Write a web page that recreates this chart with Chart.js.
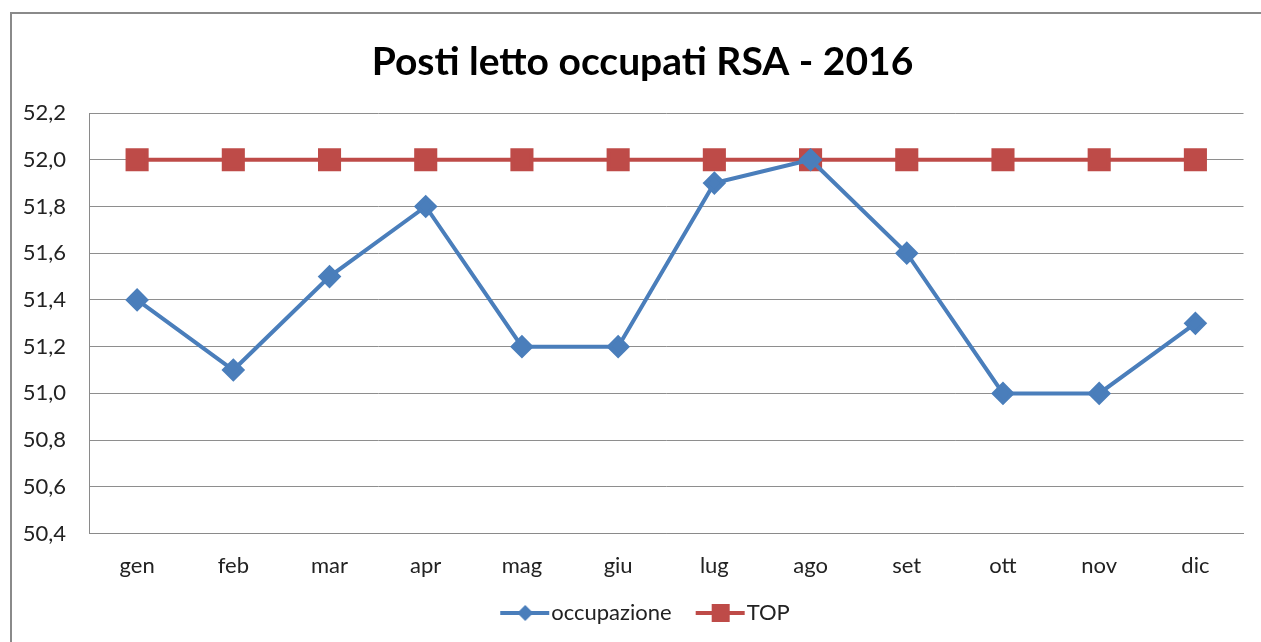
<!DOCTYPE html>
<html lang="it">
<head>
    <meta charset="UTF-8">
    <title>Posti letto occupati RSA - 2016</title>
    <style>
        html, body {
            margin: 0;
            padding: 0;
            background: #ffffff;
            overflow: hidden;
        }
        .frame {
            position: absolute;
            left: 10px;
            top: 12px;
            width: 1400px;
            height: 800px;
            border-left: 2px solid #8a8a8a;
            border-top: 2px solid #8a8a8a;
        }
        .wrap {
            position: absolute;
            left: 0;
            top: 0;
            width: 1261px;
            height: 634px;
        }
    </style>
</head>
<body>
    <div class="frame"></div>
    <div class="wrap"><canvas id="rsaChart"></canvas></div>

    <script src="https://cdn.jsdelivr.net/npm/chart.js"></script>
    <script>
        const mesi = ['gen', 'feb', 'mar', 'apr', 'mag', 'giu', 'lug', 'ago', 'set', 'ott', 'nov', 'dic'];
        const occupazione = [51.4, 51.1, 51.5, 51.8, 51.2, 51.2, 51.9, 52.0, 51.6, 51.0, 51.0, 51.3];
        const top_ = [52, 52, 52, 52, 52, 52, 52, 52, 52, 52, 52, 52];
        const yMin = 50.4, yMax = 52.2, yStep = 0.2;

        const BLUE = '#4a7ebb';
        const RED = '#be4b48';
        const FONT = 'Lato, "Open Sans", sans-serif';

        // legend symbol: short line with the marker in the middle
        // (image is wider than the legend box so the line sits right next to the text)
        function legendIcon(color, style) {
            const c = document.createElement('canvas');
            c.width = 80;
            c.height = 22;
            const g = c.getContext('2d');
            g.strokeStyle = color;
            g.fillStyle = color;
            g.lineWidth = 4;
            g.beginPath();
            g.moveTo(30, 11);
            g.lineTo(79, 11);
            g.stroke();
            g.beginPath();
            if (style === 'diamond') {
                g.moveTo(55, 3);
                g.lineTo(63, 11);
                g.lineTo(55, 19);
                g.lineTo(47, 11);
            } else {
                g.rect(46, 2, 18, 18);
            }
            g.closePath();
            g.fill();
            return c;
        }
        const icons = [legendIcon(BLUE, 'diamond'), legendIcon(RED, 'square')];

        // nudge legend and title a little to the right, as in the original
        const boxNudge = {
            id: 'boxNudge',
            afterLayout: function (chart) {
                if (chart.legend) chart.legend.left += 22;
                if (chart.titleBlock) chart.titleBlock.left += 37;
            }
        };

        new Chart(document.getElementById('rsaChart'), {
            type: 'line',
            data: {
                labels: mesi,
                datasets: [{
                    label: 'occupazione',
                    data: occupazione,
                    borderColor: BLUE,
                    backgroundColor: BLUE,
                    borderWidth: 4,
                    pointStyle: 'rectRot',
                    pointRadius: 9,
                    pointHoverRadius: 9,
                    tension: 0
                }, {
                    label: 'TOP',
                    data: top_,
                    borderColor: RED,
                    backgroundColor: RED,
                    borderWidth: 4,
                    pointStyle: 'rect',
                    pointRadius: 13.5,
                    pointHoverRadius: 13.5,
                    tension: 0
                }]
            },
            options: {
                responsive: true,
                maintainAspectRatio: false,
                animation: false,
                layout: {
                    padding: { left: 0, right: 13, top: 38.6, bottom: 0 }
                },
                scales: {
                    x: {
                        offset: true,
                        grid: { display: false, drawTicks: false },
                        border: { color: '#8a8a8a', width: 1 },
                        ticks: {
                            color: '#222222',
                            font: { family: FONT, size: 22 },
                            padding: 19
                        }
                    },
                    y: {
                        min: yMin,
                        max: yMax,
                        afterFit: function (scale) { scale.width = 89; },
                        afterBuildTicks: function (scale) {
                            const t = [];
                            for (let i = 0; i <= Math.round((yMax - yMin) / yStep); i++) {
                                t.push({ value: +(yMin + i * yStep).toFixed(1) });
                            }
                            scale.ticks = t;
                        },
                        grid: { color: '#8e8e8e', lineWidth: 1, drawTicks: false },
                        border: { color: '#8a8a8a', width: 1 },
                        ticks: {
                            color: '#222222',
                            font: { family: FONT, size: 22 },
                            padding: 23,
                            callback: function (v) { return v.toFixed(1).replace('.', ','); }
                        }
                    }
                },
                plugins: {
                    title: {
                        display: true,
                        text: 'Posti letto occupati RSA - 2016',
                        color: '#000000',
                        font: { family: FONT, size: 39, weight: 'bold' },
                        padding: { top: 0, bottom: 27.6 }
                    },
                    legend: {
                        position: 'bottom',
                        labels: {
                            usePointStyle: true,
                            pointStyleWidth: 60,
                            color: '#222222',
                            font: { family: FONT, size: 22 },
                            padding: 4,
                            generateLabels: function (chart) {
                                return chart.data.datasets.map(function (ds, i) {
                                    return {
                                        text: ds.label,
                                        pointStyle: icons[i],
                                        fillStyle: ds.borderColor,
                                        strokeStyle: ds.borderColor,
                                        lineWidth: 0,
                                        fontColor: '#222222',
                                        datasetIndex: i,
                                        hidden: false
                                    };
                                });
                            }
                        }
                    },
                    tooltip: { enabled: false }
                }
            },
            plugins: [boxNudge]
        });
    </script>
</body>
</html>
